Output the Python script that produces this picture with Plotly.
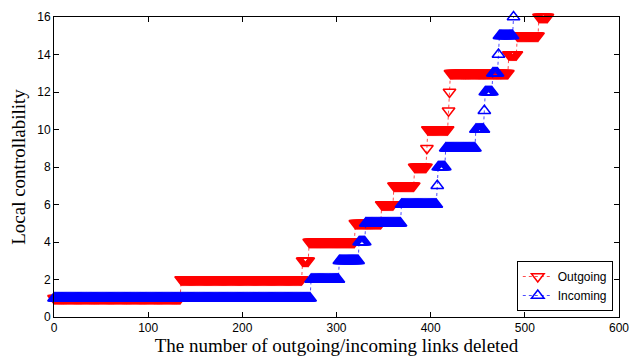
import numpy as np
import plotly.graph_objects as go

# Staircase data: each deleted link is one point; y level changes at given x
out_levels = [1, 2, 3, 4, 5, 6, 7, 8, 9, 10, 11, 12, 13, 14, 15, 16]
out_start_x = [0, 135, 264, 271, 320, 348, 361, 383, 396, 397, 419, 420, 421, 483, 492, 515]
out_last_x = 524

in_levels = [1, 2, 3, 4, 5, 6, 7, 8, 9, 10, 11, 12, 13, 14, 15, 16]
in_start_x = [0, 273, 303, 324, 331, 369, 407, 408, 416, 448, 457, 458, 466, 472, 473, 488]
in_last_x = 488

x_ticks = [0, 100, 200, 300, 400, 500, 600]
y_ticks = [0, 2, 4, 6, 8, 10, 12, 14, 16]


def expand(starts, levels, last):
    ends = starts[1:] + [last + 1]
    xs, ys = [], []
    for s, e, lv in zip(starts, ends, levels):
        for xv in range(s, e):
            xs.append(xv)
            ys.append(lv)
    return xs, ys


ox, oy = expand(out_start_x, out_levels, out_last_x)
ix, iy = expand(in_start_x, in_levels, in_last_x)

fig = go.Figure()
fig.add_trace(go.Scatter(
    x=ox, y=oy, mode="lines+markers", name="Outgoing", cliponaxis=False,
    line=dict(color="red", width=0.7, dash="dot"),
    marker=dict(symbol="triangle-down-open", size=11, color="red",
                line=dict(width=1.5, color="red")),
))
fig.add_trace(go.Scatter(
    x=ix, y=iy, mode="lines+markers", name="Incoming", cliponaxis=False,
    line=dict(color="blue", width=0.7, dash="dot"),
    marker=dict(symbol="triangle-up-open", size=11, color="blue",
                line=dict(width=1.5, color="blue")),
))

axis_common = dict(
    showline=True, linecolor="black", linewidth=1, mirror="ticks",
    ticks="inside", ticklen=5, tickcolor="black", tickwidth=1,
    showgrid=False, zeroline=False, automargin=False,
    tickfont=dict(family="Liberation Sans, Arial", size=12, color="black"),
)

title_font = dict(family="Liberation Serif, DejaVu Serif", size=19, color="black")

fig.update_layout(
    width=641, height=356,
    margin=dict(l=54, r=22, t=17, b=39),
    paper_bgcolor="white", plot_bgcolor="white",
    xaxis=dict(range=[0, 600], tickvals=x_ticks,
               title=dict(text="The number of outgoing/incoming links deleted",
                          font=title_font, standoff=5),
               **axis_common),
    yaxis=dict(range=[0, 16], tickvals=y_ticks,
               title=dict(text="Local controllability",
                          font=title_font, standoff=6),
               **axis_common),
    legend=dict(x=0.989, y=0.02, xanchor="right", yanchor="bottom",
                bgcolor="white", bordercolor="black", borderwidth=1,
                font=dict(family="Liberation Sans, Arial", size=12, color="black"),
                tracegroupgap=0, entrywidth=60),
    showlegend=True,
)

fig.write_html("out.html", config={"displayModeBar": False},
               post_script="document.body.style.margin='0';")
